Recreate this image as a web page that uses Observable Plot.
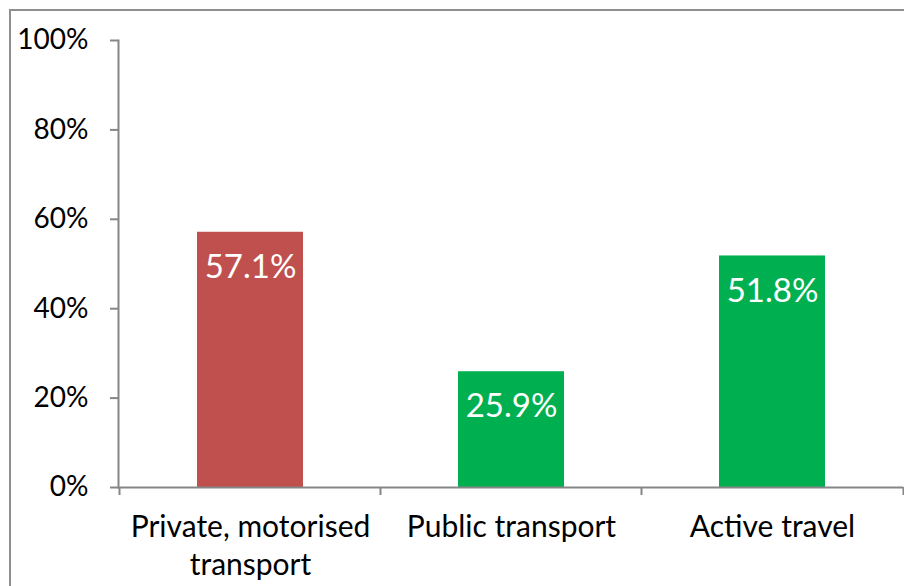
<!DOCTYPE html>
<html>
<head>
<meta charset="utf-8">
<script src="https://cdn.jsdelivr.net/npm/d3@7"></script>
<script src="https://cdn.jsdelivr.net/npm/@observablehq/plot@0.6"></script>
<style>
  html, body { margin: 0; padding: 0; background: #fff; }
  #wrap { position: relative; width: 904px; height: 586px; overflow: hidden; }
  #border { position: absolute; left: 9px; top: 9px; width: 920px; height: 600px; border: 2px solid #8f8f8f; box-sizing: border-box; pointer-events: none; }
  svg { font-family: Lato, "Open Sans", sans-serif; }
</style>
</head>
<body>
<div id="wrap"><div id="border"></div></div>
<script>
const categories = ["Private, motorised\ntransport", "Public transport", "Active travel"];
const values = [57.1, 25.9, 51.8];
const barColors = ["#C0504D", "#00B050", "#00B050"];
const yTicks = [0, 20, 40, 60, 80, 100];

const data = categories.map((c, i) => ({category: c, value: values[i], color: barColors[i]}));
const axisGray = "#868686";

const chart = Plot.plot({
  width: 904,
  height: 586,
  marginTop: 40,
  marginBottom: 99,
  marginLeft: 118,
  marginRight: 1,
  style: {fontFamily: "Lato, 'Open Sans', sans-serif", background: "transparent", color: "#000"},
  x: {domain: categories, paddingInner: 0.595, paddingOuter: 0.2975, label: null},
  y: {domain: [0, 100], label: null},
  marks: [
    Plot.barY(data, {x: "category", y: "value", fill: "color"}),
    Plot.text(data, {x: "category", y: "value", text: d => d.value.toFixed(1) + "%", dy: 35, fill: "white", fontSize: 33}),
    Plot.frame({anchor: "left", stroke: axisGray, strokeWidth: 2}),
    Plot.ruleY([0], {stroke: axisGray, strokeWidth: 2}),
    Plot.axisY({ticks: yTicks, tickFormat: d => d + "%", tickSize: 8, tickPadding: 22, fontSize: 28, stroke: axisGray, strokeWidth: 2, fill: "#000", strokeOpacity: 1, label: null}),
    Plot.axisX({tickSize: 0, tickPadding: 22, fontSize: 30, lineHeight: 1.27, fill: "#000", label: null}),
    Plot.axisX({text: null, tickSize: 8, dx: -131, stroke: axisGray, strokeWidth: 2, label: null}),
    Plot.axisX({ticks: [categories[categories.length - 1]], text: null, tickSize: 8, dx: 131, stroke: axisGray, strokeWidth: 2, label: null})
  ]
});
document.getElementById("wrap").insertBefore(chart, document.getElementById("border"));
</script>
</body>
</html>
